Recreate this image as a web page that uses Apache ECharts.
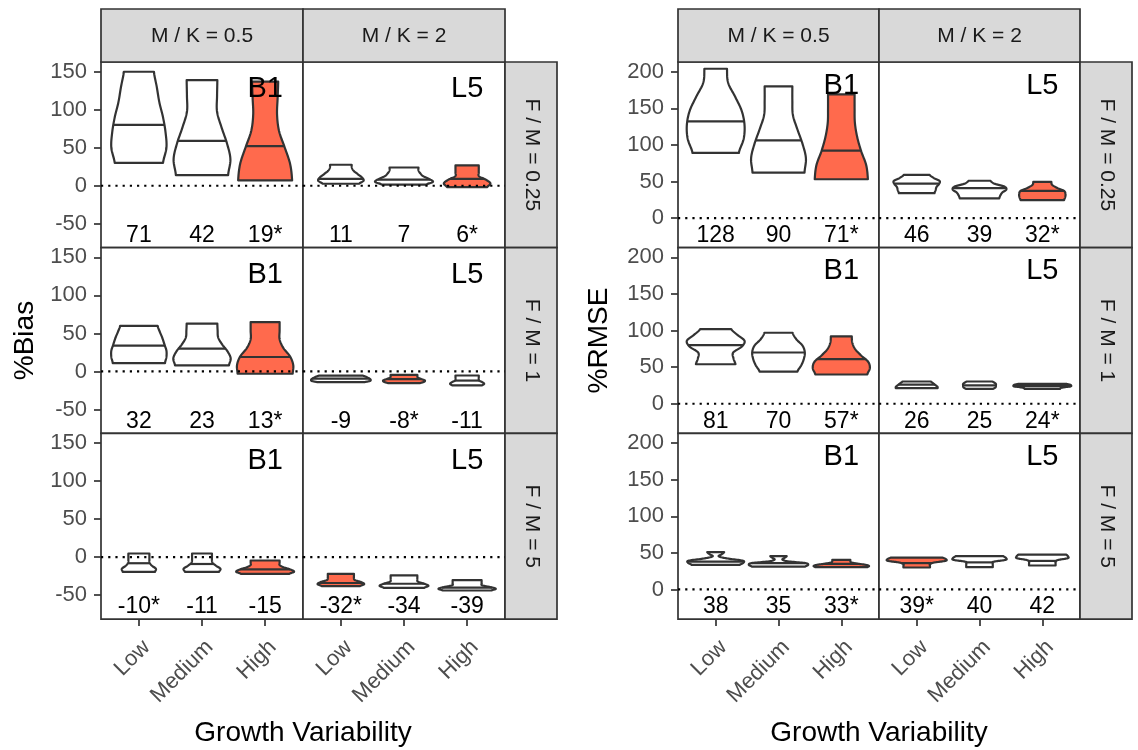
<!DOCTYPE html>
<html>
<head>
<meta charset="utf-8">
<script src="https://cdn.jsdelivr.net/npm/echarts@6/dist/echarts.min.js"></script>
<style>
  html, body { margin: 0; padding: 0; background: #ffffff; }
  #chart { width: 1138px; height: 750px; }
</style>
</head>
<body>
<div id="chart"></div>
<script>
// ---- Facet levels and tick labels ----
const growthLevels = ['Low', 'Medium', 'High'];
const mkLabels = ['M / K = 0.5', 'M / K = 2'];
const fmLabels = ['F / M = 0.25', 'F / M = 1', 'F / M = 5'];
const modelTags = ['B1', 'L5'];
const biasTicks = [-50, 0, 50, 100, 150];
const rmseTicks = [0, 50, 100, 150, 200];

// ---- Violin summaries: [min, max, median, relative density from min to max] ----
// %Bias
const biasB1_fm025 = [
  [30, 150, 80, [0.85, 0.97, 0.94, 0.85, 0.72, 0.63, 0.53]],
  [14, 139, 59, [0.92, 1.00, 0.88, 0.69, 0.53, 0.53, 0.54]],
  [7, 137, 52, [0.95, 0.88, 0.69, 0.49, 0.42, 0.44, 0.46]]
];
const biasL5_fm025 = [
  [2.6, 27.6, 9, [0.64, 0.80, 0.74, 0.60, 0.46, 0.39, 0.38]],
  [1.5, 24, 8, [0.78, 1.02, 0.88, 0.67, 0.57, 0.51, 0.51]],
  [-1.7, 26.7, 9, [0.71, 0.82, 0.67, 0.42, 0.41, 0.41, 0.41]]
];
const biasB1_fm1 = [
  [11, 60, 34, [0.92, 0.97, 0.97, 0.90, 0.83, 0.74, 0.66]],
  [8, 63, 30, [0.95, 1.01, 0.90, 0.71, 0.57, 0.55, 0.54]],
  [-3, 65, 19, [0.97, 0.99, 0.88, 0.64, 0.51, 0.51, 0.51]]
];
const biasL5_fm1 = [
  [-14, -5.5, -9.5, [0.85, 1.02, 1.05, 1.02, 0.95, 0.88, 0.78]],
  [-15.4, -4.4, -10, [0.57, 0.71, 0.73, 0.60, 0.49, 0.47, 0.47]],
  [-18.4, -5.3, -12, [0.53, 0.60, 0.53, 0.42, 0.41, 0.41, 0.41]]
];
const biasB1_fm5 = [
  [-19.3, 4.8, -8, [0.57, 0.60, 0.46, 0.38, 0.37, 0.37, 0.37]],
  [-19.3, 4.8, -9, [0.60, 0.65, 0.49, 0.37, 0.35, 0.35, 0.35]],
  [-22, -4.4, -16, [0.85, 1.02, 0.88, 0.64, 0.51, 0.51, 0.51]]
];
const biasL5_fm5 = [
  [-38.2, -21.9, -34, [0.67, 0.82, 0.71, 0.49, 0.46, 0.46, 0.46]],
  [-40.4, -24.1, -35, [0.71, 0.86, 0.71, 0.49, 0.47, 0.47, 0.47]],
  [-43.9, -30.3, -40, [0.85, 1.01, 0.81, 0.53, 0.51, 0.51, 0.51]]
];
// %RMSE
const rmseB1_fm025 = [
  [89, 204, 132, [0.82, 0.99, 1.02, 0.92, 0.69, 0.44, 0.40]],
  [62, 180, 106, [0.92, 0.97, 0.85, 0.67, 0.51, 0.49, 0.49]],
  [53, 169, 92, [0.94, 0.88, 0.70, 0.56, 0.48, 0.47, 0.47]]
];
const rmseL5_fm025 = [
  [34, 59, 47, [0.63, 0.67, 0.70, 0.79, 0.81, 0.60, 0.46]],
  [27, 51, 41, [0.70, 0.74, 0.81, 0.95, 0.88, 0.53, 0.39]],
  [24.5, 49.5, 37, [0.77, 0.81, 0.82, 0.77, 0.53, 0.35, 0.32]]
];
const rmseB1_fm1 = [
  [54, 102, 80, [0.70, 0.63, 0.62, 0.92, 1.02, 0.77, 0.55]],
  [44, 97, 70, [0.67, 0.81, 0.90, 0.93, 0.85, 0.63, 0.50]],
  [40, 92, 61, [0.92, 1.01, 0.95, 0.70, 0.49, 0.39, 0.37]]
];
const rmseL5_fm1 = [
  [21.4, 30.4, 26, [0.74, 0.74, 0.70, 0.65, 0.60, 0.55, 0.50]],
  [20.4, 30.4, 25, [0.49, 0.56, 0.58, 0.58, 0.58, 0.53, 0.46]],
  [20.4, 27.2, 24, [0.63, 0.65, 0.80, 1.00, 1.02, 0.98, 0.85]]
];
const rmseB1_fm5 = [
  [33.6, 50.9, 38, [0.85, 0.98, 0.95, 0.42, 0.11, 0.21, 0.30]],
  [31.3, 45.4, 36, [0.95, 1.05, 0.95, 0.35, 0.14, 0.21, 0.29]],
  [30.4, 40.4, 35, [0.92, 0.98, 0.85, 0.53, 0.35, 0.32, 0.32]]
];
const rmseL5_fm5 = [
  [30, 43.6, 36, [0.47, 0.47, 0.47, 0.62, 1.02, 1.04, 0.92]],
  [30.4, 45.4, 37, [0.47, 0.47, 0.47, 0.50, 0.92, 0.94, 0.85]],
  [32.7, 47.7, 39, [0.47, 0.47, 0.47, 0.55, 0.90, 0.91, 0.85]]
];

// ---- Printed summary values under each violin ----
const biasLabels = [
  [['71', '42', '19*'], ['11', '7', '6*']],
  [['32', '23', '13*'], ['-9', '-8*', '-11']],
  [['-10*', '-11', '-15'], ['-32*', '-34', '-39']]
];
const rmseLabels = [
  [['128', '90', '71*'], ['46', '39', '32*']],
  [['81', '70', '57*'], ['26', '25', '24*']],
  [['38', '35', '33*'], ['39*', '40', '42']]
];

// ---- Which violin is shaded in each panel (-1 = none) ----
const biasShaded = [[2, 2], [2, 1], [2, 0]];
const rmseShaded = [[2, 2], [2, -1], [2, 0]];

// ---- Plot definitions ----
const FONT = '"Liberation Sans", Arial, Helvetica, sans-serif';
const plots = [
  {
    panels: [[biasB1_fm025, biasL5_fm025], [biasB1_fm1, biasL5_fm1], [biasB1_fm5, biasL5_fm5]],
    labels: biasLabels, shaded: biasShaded, ticks: biasTicks,
    yMin: -81.5, yMax: 162.8, labelY: -65.6, tagY: 127,
    title: '%Bias', left: 101, colW: 202, titleX: 25
  },
  {
    panels: [[rmseB1_fm025, rmseL5_fm025], [rmseB1_fm1, rmseL5_fm1], [rmseB1_fm5, rmseL5_fm5]],
    labels: rmseLabels, shaded: rmseShaded, ticks: rmseTicks,
    yMin: -40.5, yMax: 213.2, labelY: -24, tagY: 181,
    title: '%RMSE', left: 678, colW: 201, titleX: 599
  }
];
const rowTop = 62, rowH = 185.7, stripTop = 9, stripRightW = 52;
const HALF = 0.45;           // half of the maximum violin width, in category units
const OUTLINE = '#333333';
const SHADE = '#FF6A4D';
const STROKE = 2.2;
const FRAME = 1.7;

// Catmull-Rom interpolation of a density profile at fractional index t
function densAt(d, t) {
  const n = d.length;
  if (t <= 0) return d[0];
  if (t >= n - 1) return d[n - 1];
  const k = Math.floor(t), u = t - k;
  const p0 = d[Math.max(k - 1, 0)], p1 = d[k], p2 = d[Math.min(k + 1, n - 1)], p3 = d[Math.min(k + 2, n - 1)];
  const v = 0.5 * (2 * p1 + (-p0 + p2) * u + (2 * p0 - 5 * p1 + 4 * p2 - p3) * u * u +
    (-p0 + 3 * p1 - 3 * p2 + p3) * u * u * u);
  return Math.max(v, 0.03);
}

function violinRenderer(violins, shadedIdx) {
  return function (params, api) {
    const i = params.dataIndex;
    const [lo, hi, med, dens] = violins[i];
    const xc = api.value(0);
    const n = dens.length;
    const sub = 12, steps = (n - 1) * sub;
    const right = [], left = [];
    for (let s = 0; s <= steps; s++) {
      const t = s / sub;
      const y = lo + (hi - lo) * t / (n - 1);
      const w = HALF * densAt(dens, t);
      right.push(api.coord([xc + w, y]));
      left.push(api.coord([xc - w, y]));
    }
    const points = right.concat(left.reverse());
    const tm = (med - lo) / (hi - lo) * (n - 1);
    const wm = HALF * densAt(dens, tm);
    const a = api.coord([xc - wm, med]), b = api.coord([xc + wm, med]);
    return {
      type: 'group',
      children: [
        { type: 'polygon', shape: { points: points },
          style: { fill: i === shadedIdx ? SHADE : '#ffffff', stroke: OUTLINE, lineWidth: STROKE, lineJoin: 'round' } },
        { type: 'line', shape: { x1: a[0], y1: a[1], x2: b[0], y2: b[1] },
          style: { stroke: OUTLINE, lineWidth: STROKE } }
      ]
    };
  };
}

function textRenderer(texts, tag) {
  return function (params, api) {
    const i = params.dataIndex;
    const p = api.coord([api.value(0), api.value(1)]);
    const isTag = i === 3;
    return {
      type: 'text', x: p[0], y: p[1],
      style: {
        text: isTag ? tag : texts[i], fill: '#000000',
        font: (isTag ? '29px ' : '23px ') + FONT,
        align: 'center', verticalAlign: 'middle'
      }
    };
  };
}

const grids = [], xAxes = [], yAxes = [], series = [], graphics = [];

plots.forEach(function (p) {
  for (let r = 0; r < 3; r++) {
    for (let c = 0; c < 2; c++) {
      const gi = grids.length;
      grids.push({
        left: p.left + c * p.colW, top: rowTop + r * rowH, width: p.colW, height: rowH,
        show: true, borderColor: OUTLINE, borderWidth: FRAME, backgroundColor: '#ffffff'
      });
      xAxes.push({
        gridIndex: gi, type: 'value', min: 0.4, max: 3.6, position: 'bottom',
        axisLine: { show: false, onZero: false }, splitLine: { show: false },
        axisTick: { show: r === 2, customValues: [1, 2, 3], length: 7, lineStyle: { color: OUTLINE, width: FRAME } },
        axisLabel: {
          show: r === 2, customValues: [1, 2, 3], rotate: 45, margin: 17,
          align: 'right', verticalAlign: 'top',
          formatter: function (v) { return growthLevels[Math.round(v) - 1]; },
          color: '#4D4D4D', fontSize: 22, fontFamily: FONT
        }
      });
      yAxes.push({
        gridIndex: gi, type: 'value', min: p.yMin, max: p.yMax, position: 'left',
        axisLine: { show: false, onZero: false }, splitLine: { show: false },
        axisTick: { show: c === 0, customValues: p.ticks, length: 7, lineStyle: { color: OUTLINE, width: FRAME } },
        axisLabel: { show: c === 0, customValues: p.ticks, margin: 14, color: '#4D4D4D', fontSize: 22, fontFamily: FONT }
      });
      const violins = p.panels[r][c];
      series.push({
        type: 'custom', xAxisIndex: gi, yAxisIndex: gi, clip: false, z: 2,
        renderItem: violinRenderer(violins, p.shaded[r][c]),
        encode: { x: 0, y: 1 },
        data: violins.map(function (v, i) { return [i + 1, v[2]]; })
      });
      series.push({
        type: 'line', xAxisIndex: gi, yAxisIndex: gi, z: 4, silent: true, symbol: 'none',
        lineStyle: { color: '#000000', width: 2.2, type: [2.2, 5] },
        data: [[0.4, 0], [3.6, 0]]
      });
      series.push({
        type: 'custom', xAxisIndex: gi, yAxisIndex: gi, clip: false, z: 5,
        renderItem: textRenderer(p.labels[r][c], modelTags[c]),
        encode: { x: 0, y: 1 },
        data: [[1, p.labelY], [2, p.labelY], [3, p.labelY], [3, p.tagY]]
      });
    }
  }

  // column strips
  for (let c = 0; c < 2; c++) {
    graphics.push({
      type: 'rect', shape: { x: p.left + c * p.colW, y: stripTop, width: p.colW, height: rowTop - stripTop },
      style: { fill: '#D9D9D9', stroke: OUTLINE, lineWidth: FRAME }
    });
    graphics.push({
      type: 'text', x: p.left + c * p.colW + p.colW / 2, y: (stripTop + rowTop) / 2 + 1,
      style: { text: mkLabels[c], fill: '#1A1A1A', font: '21px ' + FONT, align: 'center', verticalAlign: 'middle' }
    });
  }
  // row strips
  const sx = p.left + 2 * p.colW;
  for (let r = 0; r < 3; r++) {
    graphics.push({
      type: 'rect', shape: { x: sx, y: rowTop + r * rowH, width: stripRightW, height: rowH },
      style: { fill: '#D9D9D9', stroke: OUTLINE, lineWidth: FRAME }
    });
    graphics.push({
      type: 'text', x: sx + stripRightW / 2 + 1, y: rowTop + r * rowH + rowH / 2, rotation: -Math.PI / 2,
      style: { text: fmLabels[r], fill: '#1A1A1A', font: '21px ' + FONT, align: 'center', verticalAlign: 'middle' }
    });
  }
  // axis titles
  graphics.push({
    type: 'text', x: p.left + p.colW, y: 733,
    style: { text: 'Growth Variability', fill: '#000000', font: '28px ' + FONT, align: 'center', verticalAlign: 'middle' }
  });
  graphics.push({
    type: 'text', x: p.titleX, y: rowTop + 1.5 * rowH, rotation: Math.PI / 2,
    style: { text: p.title, fill: '#000000', font: '28px ' + FONT, align: 'center', verticalAlign: 'middle' }
  });
});

const chart = echarts.init(document.getElementById('chart'), null, { renderer: 'canvas' });
chart.setOption({
  animation: false,
  backgroundColor: '#ffffff',
  grid: grids,
  xAxis: xAxes,
  yAxis: yAxes,
  series: series,
  graphic: { elements: graphics }
});
</script>
</body>
</html>
